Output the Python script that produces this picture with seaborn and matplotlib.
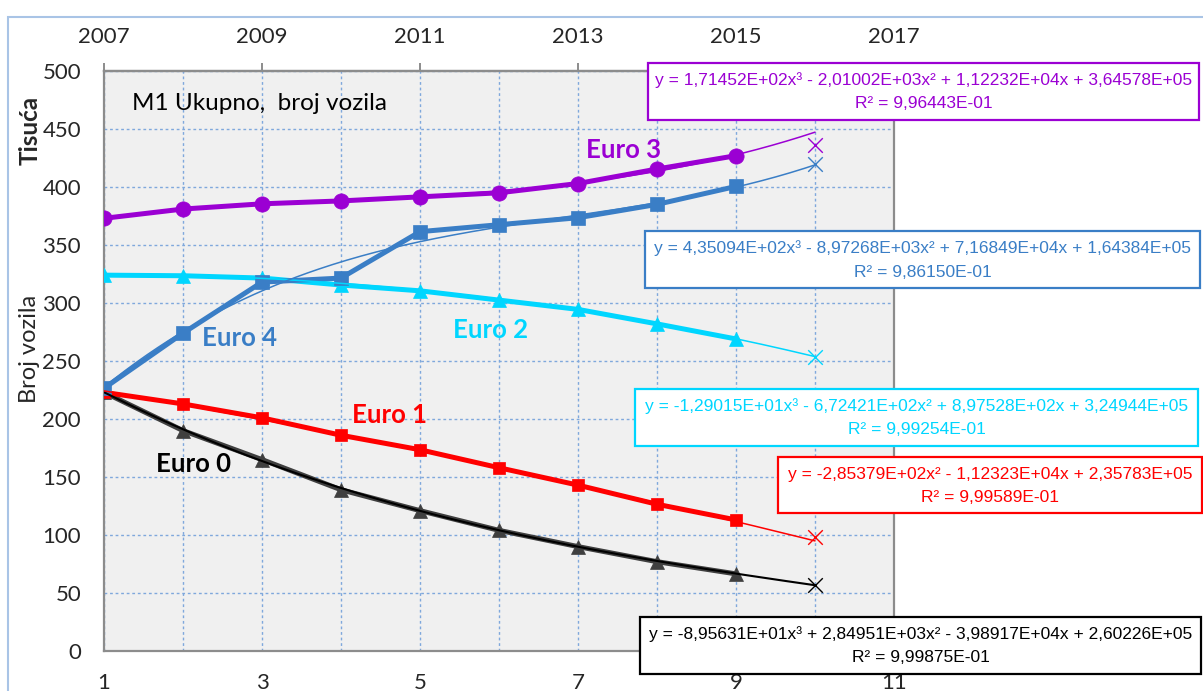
import numpy as np
import pandas as pd
import matplotlib
matplotlib.use("Agg")
import matplotlib.pyplot as plt
from matplotlib.patches import Rectangle
import seaborn as sns

sns.set_style("white")
plt.rcParams["font.family"] = ["Lato", "DejaVu Sans"]

# ---- data (thousands of vehicles) ----
x_idx = [1, 2, 3, 4, 5, 6, 7, 8, 9]
years = [2007, 2009, 2011, 2013, 2015, 2017]

euro0 = [223, 190, 165, 139, 121, 104, 90, 77, 66.5]
euro1 = [223, 213, 201, 186, 173.5, 158, 143, 126.5, 113]
euro2 = [324, 323.5, 321.5, 315.5, 310.5, 302.5, 294.5, 282, 269]
euro3 = [373, 381, 385.5, 388, 391.5, 395, 403, 415.5, 427]
euro4 = [226.5, 274, 318, 321.5, 361.5, 367.5, 373.5, 385, 400.5]

# forecast points at index 10
x_fc = 10
fc_vals = {"Euro 0": 57, "Euro 1": 98.5, "Euro 2": 253.5, "Euro 3": 436, "Euro 4": 420}

# polynomial trend coefficients (highest power first), values in vehicles
coef0 = [-8.95631e01, 2.84951e03, -3.98917e04, 2.60226e05]
coef1 = [-2.85379e02, -1.12323e04, 2.35783e05]
coef2 = [-1.29015e01, -6.72421e02, 8.97528e02, 3.24944e05]
coef3 = [1.71452e02, -2.01002e03, 1.12232e04, 3.64578e05]
coef4 = [4.35094e02, -8.97268e03, 7.16849e04, 1.64384e05]

eq0 = ["y = -8,95631E+01x³ + 2,84951E+03x² - 3,98917E+04x + 2,60226E+05", "R² = 9,99875E-01"]
eq1 = ["y = -2,85379E+02x² - 1,12323E+04x + 2,35783E+05", "R² = 9,99589E-01"]
eq2 = ["y = -1,29015E+01x³ - 6,72421E+02x² + 8,97528E+02x + 3,24944E+05", "R² = 9,99254E-01"]
eq3 = ["y = 1,71452E+02x³ - 2,01002E+03x² + 1,12232E+04x + 3,64578E+05", "R² = 9,96443E-01"]
eq4 = ["y = 4,35094E+02x³ - 8,97268E+03x² + 7,16849E+04x + 1,64384E+05", "R² = 9,86150E-01"]

C_PURPLE = "#9B00D3"
C_BLUE = "#3A7EC6"
C_CYAN = "#00D6FF"
C_RED = "#FF0000"
C_DARK = "#3F3F3F"
C_AXIS = "#8C8C8C"
C_GRID = "#7FA8DC"

W, H = 1203, 691
fig = plt.figure(figsize=(W / 100, H / 100), dpi=100)
fig.patch.set_facecolor("white")

def fx(px):
    return px / W

def fy(py):
    return 1 - py / H

ax = fig.add_axes([fx(104), fy(651), fx(894) - fx(104), fy(71) - fy(651)])
ax.set_facecolor("#F0F0F0")
ax.set_xlim(1, 11)
ax.set_ylim(0, 500)

# grid: dashed light blue at every index and every 50 thousand
ax.set_xticks([1, 3, 5, 7, 9, 11])
ax.set_xticks([2, 4, 6, 8, 10], minor=True)
ax.set_yticks(range(0, 501, 50))
ax.grid(True, which="both", axis="x", color=C_GRID, linestyle=(0, (2, 2)), linewidth=1.0)
ax.grid(True, which="major", axis="y", color=C_GRID, linestyle=(0, (2, 2)), linewidth=1.0)
ax.set_axisbelow(True)

for s in ax.spines.values():
    s.set_color(C_AXIS)
    s.set_linewidth(1.6)

ax.tick_params(axis="x", which="major", direction="out", length=6, width=1.4, color=C_AXIS,
               labelsize=16, pad=10)
ax.tick_params(axis="x", which="minor", length=0)
ax.tick_params(axis="y", which="major", direction="out", length=6, width=1.4, color=C_AXIS,
               labelsize=16, pad=10.5)

sec = ax.secondary_xaxis("top", functions=(lambda v: v + 2006, lambda v: v - 2006))
sec.set_xticks(years)
sec.set_xticklabels([str(y) for y in years])
sec.tick_params(axis="x", direction="out", length=6, width=1.4, color=C_AXIS, labelsize=16, pad=11)
sec.spines["top"].set_color(C_AXIS)
sec.spines["top"].set_linewidth(1.6)

series = [
    ("Euro 0", euro0, coef0, C_DARK, "black", "^", 9.5),
    ("Euro 1", euro1, coef1, C_RED, C_RED, "s", 9),
    ("Euro 2", euro2, coef2, C_CYAN, C_CYAN, "^", 10.5),
    ("Euro 4", euro4, coef4, C_BLUE, C_BLUE, "s", 9.5),
    ("Euro 3", euro3, coef3, C_PURPLE, C_PURPLE, "o", 11),
]

xs = np.linspace(1, 10, 200)
for name, vals, coef, col, tcol, mk, ms in series:
    df = pd.DataFrame({"x": x_idx, "y": vals})
    sns.lineplot(data=df, x="x", y="y", ax=ax, color=col, linewidth=3.6, marker=mk,
                 markersize=ms, markeredgecolor=col, markeredgewidth=0.5, zorder=3)
    trend = pd.DataFrame({"x": xs, "y": np.polyval(coef, xs) / 1000})
    sns.lineplot(data=trend, x="x", y="y", ax=ax, color=tcol,
                 linewidth=1.5 if name == "Euro 0" else 1.1, zorder=4)
    sns.scatterplot(x=[x_fc], y=[fc_vals[name]], ax=ax, marker="x", s=110, color=tcol,
                    linewidth=1.0, zorder=5)

ax.set_xlabel("")
ax.set_ylabel("")

# series labels
lbl_kw = dict(fontsize=18.5, fontweight="bold", transform=fig.transFigure, va="center", ha="left")
fig.text(fx(586), fy(150), "Euro 3", color=C_PURPLE, **lbl_kw)
fig.text(fx(202), fy(338), "Euro 4", color=C_BLUE, **lbl_kw)
fig.text(fx(453), fy(330), "Euro 2", color=C_CYAN, **lbl_kw)
fig.text(fx(352), fy(415), "Euro 1", color=C_RED, **lbl_kw)
fig.text(fx(156), fy(464), "Euro 0", color="black", **lbl_kw)

fig.text(fx(132), fy(103), "M1 Ukupno,  broj vozila", fontsize=17.5, color="black",
         va="center", ha="left")

fig.text(fx(30), fy(130), "Tisuća", fontsize=17.5, fontweight="bold", rotation=90,
         va="center", ha="center")
fig.text(fx(30), fy(349), "Broj vozila", fontsize=17, rotation=90, va="center", ha="center")

# trend equation boxes
boxes = [
    (eq3, C_PURPLE, 648, 63, 1199, 120),
    (eq4, C_BLUE, 645, 231, 1200, 288),
    (eq2, C_CYAN, 635, 389, 1198, 446),
    (eq1, C_RED, 778, 457, 1202, 513),
    (eq0, "black", 640, 617, 1201, 674),
]
eq_font = ["Liberation Sans", "DejaVu Sans"]
for lines, col, x0, y0, x1, y1 in boxes:
    fig.patches.append(Rectangle((fx(x0), fy(y1)), fx(x1) - fx(x0), fy(y0) - fy(y1),
                                 transform=fig.transFigure, facecolor="white",
                                 edgecolor=col, linewidth=1.6, zorder=10))
    cx = fx((x0 + x1) / 2)
    fig.text(cx, fy(y0 + 17), lines[0], color=col, fontsize=12.5, ha="center", va="center",
             family=eq_font, zorder=11)
    fig.text(cx, fy(y0 + 41), lines[1], color=col, fontsize=12.5, ha="center", va="center",
             family=eq_font, zorder=11)

# outer frame
fig.patches.append(Rectangle((fx(8), -0.05), 1.2, fy(17) + 0.05, transform=fig.transFigure,
                             fill=False, edgecolor="#A9C4E6", linewidth=1.5, zorder=0))

fig.savefig("out.png", dpi=100)
